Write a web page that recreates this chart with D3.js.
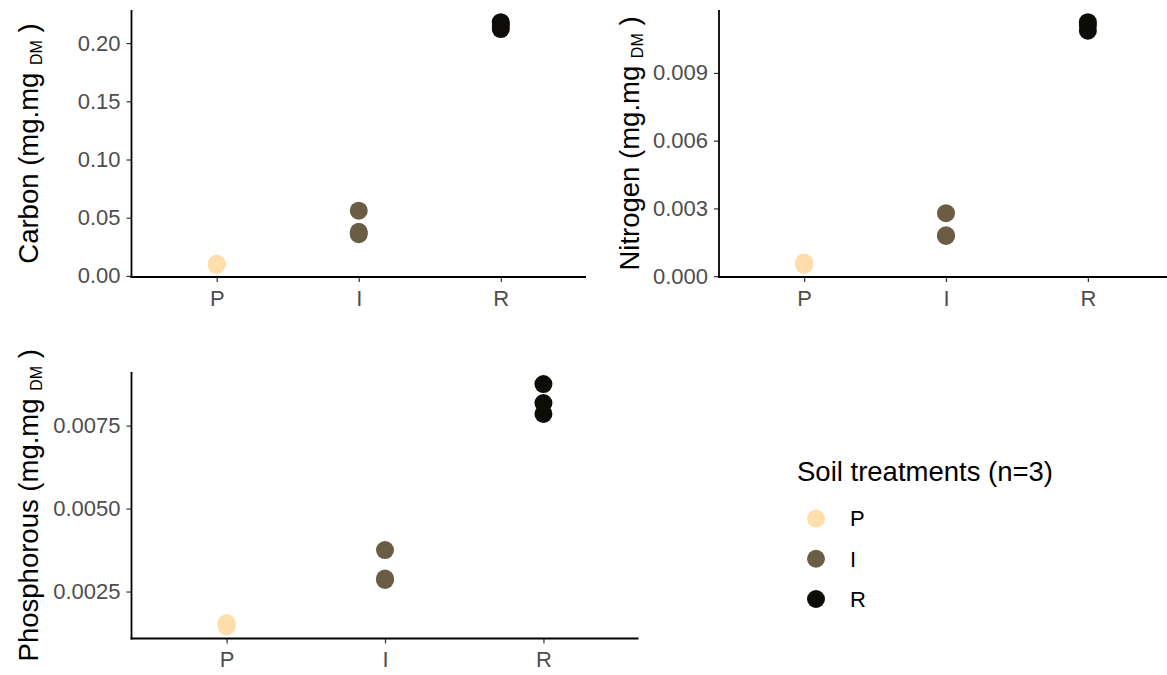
<!DOCTYPE html>
<html>
<head>
<meta charset="utf-8">
<script src="https://cdn.jsdelivr.net/npm/d3@7"></script>
<style>
  html, body { margin: 0; padding: 0; background: #fff; }
  svg { display: block; font-family: "Liberation Sans", Arial, sans-serif; }
  text { white-space: pre; }
</style>
</head>
<body>
<svg id="chart" width="1167" height="675"></svg>
<script>
// ---- data ----
const categories = ["P", "I", "R"];
const legendTitle = "Soil treatments (n=3)";
const colors = ["#FFDEAB", "#6B5D45", "#0E0C08"];

// values per category (P, I, R), three replicates each
const carbonP = [0.0095, 0.0100, 0.0105];
const carbonI = [0.0359, 0.0379, 0.0560];
const carbonR = [0.2120, 0.2150, 0.2180];

const nitrogenP = [0.00050, 0.00055, 0.00060];
const nitrogenI = [0.00178, 0.00181, 0.00279];
const nitrogenR = [0.01087, 0.01110, 0.01125];

const phosP = [0.00145, 0.00150, 0.00155];
const phosI = [0.00285, 0.00289, 0.00375];
const phosR = [0.00785, 0.00818, 0.00875];

const carbonTicks = [0, 0.05, 0.10, 0.15, 0.20];
const nitrogenTicks = [0, 0.003, 0.006, 0.009];
const phosTicks = [0.0025, 0.0050, 0.0075];

const titles = ["Carbon", "Nitrogen", "Phosphorous"];

// ---- layout ----
const svg = d3.select("#chart");
const panels = [
  { title: titles[0], values: [carbonP, carbonI, carbonR], ticks: carbonTicks, fmt: ".2f",
    x0: 131.5, x1: 586, y0: 10, y1: 277, titleX: 37.5 },
  { title: titles[1], values: [nitrogenP, nitrogenI, nitrogenR], ticks: nitrogenTicks, fmt: ".3f",
    x0: 719, x1: 1173, y0: 10, y1: 277, titleX: 639 },
  { title: titles[2], values: [phosP, phosI, phosR], ticks: phosTicks, fmt: ".4f",
    x0: 131.5, x1: 638.5, y0: 372, y1: 638.5, titleX: 37.5 }
];

const tickColor = "#333333";
const tickText = "#4D4D4D";

panels.forEach(p => {
  const all = p.values.flat();
  const [mn, mx] = d3.extent(all);
  const pad = (mx - mn) * 0.05;
  const y = d3.scaleLinear().domain([mn - pad, mx + pad]).range([p.y1, p.y0]);
  const x = d3.scalePoint().domain(categories).range([p.x0, p.x1]).padding(0.6);

  const g = svg.append("g");

  // points
  const pts = [];
  p.values.forEach((arr, i) => arr.forEach(v => pts.push({ c: categories[i], v, i })));
  g.selectAll("circle.pt").data(pts).join("circle")
    .attr("class", "pt")
    .attr("cx", d => x(d.c))
    .attr("cy", d => y(d.v))
    .attr("r", 9)
    .attr("fill", d => colors[d.i]);

  // y axis
  const ya = g.append("g").attr("transform", `translate(${p.x0},0)`)
    .call(d3.axisLeft(y).tickValues(p.ticks).tickFormat(d3.format(p.fmt)).tickSize(5).tickPadding(6));
  ya.select(".domain").remove();
  ya.selectAll(".tick line").attr("stroke", tickColor).attr("stroke-width", 1.2);
  ya.selectAll(".tick text").attr("fill", tickText).attr("font-size", 22)
    .attr("font-family", "Liberation Sans, Arial, sans-serif");
  g.append("line").attr("x1", p.x0).attr("x2", p.x0).attr("y1", p.y0).attr("y2", p.y1 + 0.9)
    .attr("stroke", "#000").attr("stroke-width", 1.8);

  // x axis
  const xa = g.append("g").attr("transform", `translate(0,${p.y1})`)
    .call(d3.axisBottom(x).tickSize(5).tickPadding(8));
  xa.select(".domain").remove();
  xa.selectAll(".tick line").attr("stroke", tickColor).attr("stroke-width", 1.2);
  xa.selectAll(".tick text").attr("fill", tickText).attr("font-size", 22)
    .attr("font-family", "Liberation Sans, Arial, sans-serif");
  g.append("line").attr("x1", p.x0 - 0.9).attr("x2", p.x1).attr("y1", p.y1).attr("y2", p.y1)
    .attr("stroke", "#000").attr("stroke-width", 1.8);

  // y title
  const t = g.append("text")
    .attr("transform", `translate(${p.titleX},${(p.y0 + p.y1) / 2}) rotate(-90)`)
    .attr("text-anchor", "middle")
    .attr("font-size", 27.5)
    .attr("fill", "#000");
  t.append("tspan").text(p.title + " (mg.mg ");
  t.append("tspan").attr("font-size", 16).attr("dy", 4).text("DM");
  t.append("tspan").attr("dy", -4).text(" )");
});

// ---- legend ----
const lg = svg.append("g");
lg.append("text").attr("x", 797).attr("y", 481).attr("font-size", 27.5).attr("fill", "#000").text(legendTitle);
const keyY = d3.scalePoint().domain(categories).range([518.5, 599]);
lg.selectAll("circle").data(categories).join("circle")
  .attr("cx", 816).attr("cy", d => keyY(d)).attr("r", 9)
  .attr("fill", (d, i) => colors[i]);
lg.selectAll("text.lab").data(categories).join("text")
  .attr("class", "lab")
  .attr("x", 850).attr("y", d => keyY(d)).attr("dy", "0.36em")
  .attr("font-size", 22).attr("fill", "#000").text(d => d);
</script>
</body>
</html>
